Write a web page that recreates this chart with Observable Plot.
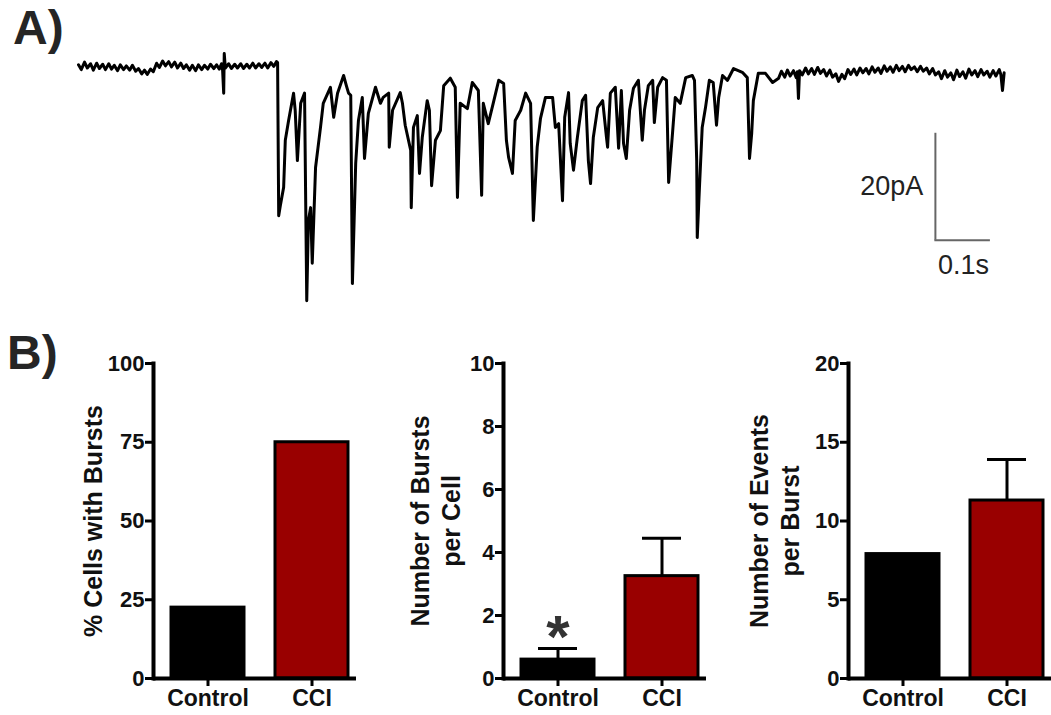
<!DOCTYPE html>
<html><head><meta charset="utf-8">
<script src="https://cdn.jsdelivr.net/npm/d3@7"></script>
<script src="https://cdn.jsdelivr.net/npm/@observablehq/plot@0.6"></script>
<style>
body{margin:0;background:#fff;}
#fig{position:relative;width:1051px;height:715px;overflow:hidden;font-family:"Liberation Sans",Arial,sans-serif;}
#fig svg{position:absolute;}
.lbl{position:absolute;font-weight:bold;font-size:48px;line-height:1;color:#252525;}
</style></head><body><div id="fig"></div>
<script>
// Panel A: current trace samples [time (ms), current (pA, relative to baseline)]
const traceBaselineBefore = [[0,0.3],[5,-0.6],[11,0.8],[16,-0.3],[22,0.5],[27,-0.7],[33,0.6],[38,-0.4],[44,0.4],[49,-0.6],[55,0.5],[60,-0.5],[65,0.2],[71,-0.8],[76,0.3],[82,-0.6],[87,0.1],[93,-0.7],[98,0.2],[104,-0.9],[109,-0.4],[115,-1.4],[120,-0.7],[125,-1.5],[131,-0.5],[136,-1.0],[142,0.6],[147,-0.2],[153,1.0],[158,0.1],[164,0.9],[169,-0.1],[175,0.8],[180,-0.3],[186,0.6],[191,-0.4],[196,0.3],[202,-0.7],[207,0.2],[213,-0.8],[218,0.3],[224,-0.6],[229,0.2],[235,-0.5],[240,0.4],[246,-0.4],[251,0.3],[256,-0.5],[260,0.5],[262,-0.7],[264,-5.0],[265,2.4],[267,-0.3],[273,0.5],[278,-0.4],[284,0.4],[289,-0.3],[295,0.5],[300,-0.4],[306,0.4],[311,-0.3],[317,0.6],[322,-0.3],[328,0.5],[333,-0.2],[339,0.6],[344,-0.3],[350,0.7],[355,0],[360,0.9],[362,0.7]];
const traceBurst = [[364,-27.9],[367,-26.0],[373,-22.6],[376,-13.8],[382,-10.1],[391,-5.0],[394,-8.2],[398,-17.6],[404,-6.9],[411,-5.0],[415,-43.8],[418,-28.8],[422,-26.4],[425,-36.8],[431,-18.9],[440,-11.4],[445,-6.9],[458,-3.9],[464,-9.5],[471,-5.0],[482,-1.7],[487,-3.6],[491,-5.0],[495,-5.4],[498,-40.6],[504,-18.1],[509,-10.1],[516,-5.8],[520,-17.2],[527,-8.8],[540,-3.9],[549,-6.9],[554,-5.8],[564,-5.0],[565,-15.1],[571,-8.2],[585,-4.9],[589,-6.9],[594,-11.0],[604,-15.7],[605,-26.4],[609,-11.4],[616,-9.2],[620,-20.0],[625,-13.3],[634,-6.4],[638,-8.2],[642,-22.3],[649,-13.8],[658,-12.0],
[664,-3.6],[676,-2.2],[685,-3.9],[689,-24.5],[694,-6.9],[707,-7.9],[716,-3.0],[727,-4.5],[733,-24.1],[736,-6.9],[745,-10.7],[754,-6.9],[764,-2.6],[773,-3.2],[778,-13.8],[782,-17.0],[789,-20.0],[794,-10.1],[804,-8.2],[813,-5.0],[822,-6.9],[827,-28.8],[834,-15.1],[840,-9.7],[849,-5.8],[862,-5.8],[867,-11.4],[873,-10.7],[880,-25.1],[884,-9.5],[891,-4.9],[894,-14.4],[900,-19.4],[907,-13.3],[916,-6.4],[922,-5.4],[927,-17.6],[931,-21.9],[936,-13.3],[944,-7.7],[953,-6.4],[960,-13.3],
[962,-15.1],[967,-5.0],[976,-3.9],[982,-15.3],[987,-4.5],[991,-14.4],[996,-17.2],[1002,-8.2],[1009,-4.1],[1018,-2.6],[1025,-13.8],[1029,-8.2],[1036,-3.6],[1044,-2.6],[1047,-10.5],[1053,-3.9],[1062,-2.1],[1069,-2.6],[1073,-21.7],[1080,-12.5],[1085,-5.8],[1094,-6.9],[1104,-2.1],[1116,-1.7],[1120,-2.6],[1124,-17.6],[1125,-32.0],[1129,-22.6],[1134,-11.4],[1140,-7.7],[1147,-2.6],[1154,-3.0],[1160,-11.0],[1164,-5.8],[1171,-1.7],[1180,-2.6],[1191,-0.4],[1207,-1.1],[1216,-2.1],[1220,-17.2],[1224,-12.5],[1227,-6.4],[1236,-1.3],[1249,-1.3],[1262,-3.0]];
const traceBaselineAfter = [[1273,-2.2],[1278,-0.9],[1284,-2.0],[1289,-0.7],[1294,-1.8],[1300,-0.8],[1305,-2.1],[1307,-1.0],[1309,-6.0],[1311,-0.8],[1316,-1.6],[1322,-0.3],[1327,-1.4],[1333,-0.4],[1338,-1.5],[1344,-0.2],[1349,-1.3],[1355,-0.6],[1360,-1.8],[1366,-0.7],[1371,-2.0],[1377,-1.4],[1382,-2.8],[1388,-1.5],[1393,-2.3],[1399,-0.6],[1404,-1.5],[1410,-0.5],[1415,-1.6],[1421,-0.3],[1426,-1.2],[1432,-0.4],[1437,-1.4],[1443,-0.1],[1448,-1.1],[1454,-0.3],[1459,-1.3],[1465,0.1],[1470,-0.9],[1476,-0.1],[1481,-1.1],[1487,0.2],[1492,-0.8],[1498,0],[1503,-1.0],[1509,0.2],[1514,-0.6],[1520,-0.1],[1525,-1.0],[1531,0],[1536,-0.9],[1542,-0.3],[1547,-1.4],[1553,-0.4],[1558,-1.6],[1564,-1.0],[1569,-2.3],[1575,-0.8],[1580,-2.0],[1586,-1.2],[1591,-2.5],[1597,-0.7],[1602,-1.9],[1608,-1.0],[1613,-2.2],[1619,-0.5],[1624,-1.6],[1630,-0.8],[1635,-1.9],[1641,-0.6],[1646,-1.6],[1652,-0.9],[1657,-2.0],[1663,-0.8],[1668,-1.8],[1674,-0.6],[1677,-1.5],[1680,-4.5],[1683,-1.2]];
const scaleBarTimeMs = 100;
const scaleBarCurrentPA = 20;
const scaleBarLabels = ["20pA", "0.1s"];

// Panel B: bar charts
const groups = ["Control", "CCI"];
const groupColors = ["#000000", "#990000"];
const pctCellsWithBursts = [22.5, 75];
const burstsPerCellMean = [0.6, 3.25];
const burstsPerCellSEM = [0.35, 1.2];
const eventsPerBurstMean = [7.9, 11.3];
const eventsPerBurstSEM = [0, 2.6];
const pctTicks = [0, 25, 50, 75, 100];
const burstTicks = [0, 2, 4, 6, 8, 10];
const eventTicks = [0, 5, 10, 15, 20];
const yLabels = ["% Cells with Bursts", "Number of Bursts\nper Cell", "Number of Events\nper Burst"];

const fig = document.getElementById("fig");
const FONT = '"Liberation Sans", Arial, sans-serif';

// Trace
const trace = [...traceBaselineBefore, ...traceBurst, ...traceBaselineAfter].map(([t, I]) => ({t, I}));
const sbT = 1558, sbI = -12.5; // scale bar anchor
const tracePlot = Plot.plot({
  width: 1051, height: 314,
  marginLeft: 78, marginRight: 43.5, marginTop: 44.5, marginBottom: 2,
  x: {domain: [0, 1690], axis: null},
  y: {domain: [-46, 4], axis: null},
  style: {fontFamily: FONT, background: "transparent", overflow: "visible"},
  marks: [
    Plot.line(trace, {x: "t", y: "I", stroke: "#000", strokeWidth: 3, strokeLinejoin: "round"}),
    Plot.ruleX([sbT], {y1: sbI, y2: sbI - scaleBarCurrentPA, stroke: "#666", strokeWidth: 2}),
    Plot.ruleY([sbI - scaleBarCurrentPA], {x1: sbT - 1, x2: sbT + scaleBarTimeMs, stroke: "#666", strokeWidth: 2}),
    Plot.text([scaleBarLabels[0]], {x: 1536, y: -22.4, textAnchor: "end", fontSize: 27, fill: "#222"}),
    Plot.text([scaleBarLabels[1]], {x: 1609, y: -37.2, fontSize: 27, fill: "#222"})
  ]
});
tracePlot.style.left = "0px"; tracePlot.style.top = "0px";
fig.appendChild(tracePlot);

function barPanel({left, values, sems, ticks, yMax, label, labelDx, star}) {
  const rows = groups.map((g, i) => ({group: g, value: values[i], sem: sems ? sems[i] : 0, color: groupColors[i]}));
  const err = rows.filter(d => d.sem > 0);
  const marks = [
    Plot.ruleX(err, {x: "group", y1: "value", y2: d => d.value + d.sem, stroke: "#000", strokeWidth: 3}),
    Plot.tickY(err, {x: "group", y: d => d.value + d.sem, stroke: "#000", strokeWidth: 3, insetLeft: 17, insetRight: 17}),
    Plot.barY(rows, {x: "group", y: "value", fill: "color", stroke: "#000", strokeWidth: 3}),
    Plot.axisY({ticks, tickSize: 8, tickPadding: 1, strokeWidth: 3, fontSize: 22, fontWeight: "bold", label: null, fill: "#111"}),
    Plot.axisX({tickSize: 8, tickPadding: 3, strokeWidth: 3, fontSize: 23, fontWeight: "bold", label: null, fill: "#111"}),
    Plot.frame({anchor: "left", strokeWidth: 4}),
    Plot.ruleY([0], {strokeWidth: 4}),
    Plot.text([label], {frameAnchor: "left", textAnchor: "middle", lineAnchor: "middle", rotate: -90, dx: labelDx, fontSize: 25, fontWeight: "bold", lineHeight: 1.25, fill: "#111"})
  ];
  if (star) marks.push(Plot.text([star], {x: "group", y: "y", text: "text", fontSize: 60, fill: "#333"}));
  const p = Plot.plot({
    width: 356, height: 395,
    marginLeft: 153, marginRight: 0, marginTop: 43, marginBottom: 37,
    x: {domain: groups, paddingInner: 0.3, paddingOuter: 0.125, align: 0.7, label: null},
    y: {domain: [0, yMax], label: null},
    color: {type: "identity"},
    style: {fontFamily: FONT, fontWeight: "bold", color: "#000", background: "transparent", overflow: "visible"},
    marks
  });
  p.style.left = left + "px"; p.style.top = "320px";
  fig.appendChild(p);
}

barPanel({left: 0, values: pctCellsWithBursts, sems: null, ticks: pctTicks, yMax: 100, label: yLabels[0], labelDx: -62});
barPanel({left: 350, values: burstsPerCellMean, sems: burstsPerCellSEM, ticks: burstTicks, yMax: 10, label: yLabels[1], labelDx: -69,
  star: {text: "*", group: "Control", y: 1.3}});
barPanel({left: 695, values: eventsPerBurstMean, sems: eventsPerBurstSEM, ticks: eventTicks, yMax: 20, label: yLabels[2], labelDx: -75});

for (const [txt, l, t] of [["A)", 13, 4], ["B)", 7, 329]]) {
  const d = document.createElement("div");
  d.className = "lbl"; d.textContent = txt;
  d.style.left = l + "px"; d.style.top = t + "px";
  fig.appendChild(d);
}
</script></body></html>
